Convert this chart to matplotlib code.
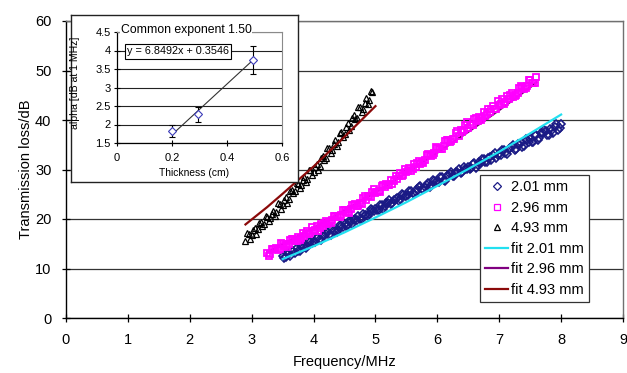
import numpy as np
import matplotlib
matplotlib.use("Agg")
import matplotlib.pyplot as plt

plt.rcParams['font.family'] = ['Liberation Sans', 'DejaVu Sans']

# ---------------- data ----------------
# 2.01 mm sample: reading A every 0.05 MHz from 3.50 to 8.00 MHz,
# reading B in between (3.525 .. 7.975 MHz)
blue_f_start, blue_f_stop = 3.50, 8.00
blue_loss = [
    12.5, 12.3, 13.1, 13.6, 13.2, 13.5, 14.5, 14.4, 14.6, 15.4,
    15.3, 16.1, 15.9, 16.6, 16.9, 16.8, 17.9, 17.5, 17.8, 18.6,
    18.9, 18.7, 19.6, 19.8, 19.7, 20.1, 21.0, 20.8, 21.0, 21.9,
    22.0, 21.9, 22.9, 22.7, 23.3, 23.0, 23.9, 24.2, 24.0, 24.9,
    24.7, 25.6, 25.3, 25.5, 26.4, 26.0, 26.4, 27.2, 26.8, 27.6,
    27.7, 28.4, 27.9, 28.7, 29.1, 28.6, 29.4, 30.1, 29.5, 30.2,
    30.6, 30.3, 31.3, 31.0, 31.3, 32.1, 31.6, 32.5, 32.9, 32.3,
    33.2, 33.9, 33.3, 34.1, 34.6, 34.0, 35.2, 35.3, 34.7, 35.9,
    36.2, 35.6, 36.9, 36.3, 37.3, 37.8, 36.9, 38.0, 38.6, 37.9,
    39.1]
blue_loss_b = [
    12.1, 13.2, 12.5, 13.6, 14.2, 13.6, 14.5, 14.2, 15.5, 15.1,
    15.3, 16.3, 15.7, 16.8, 17.4, 16.8, 17.7, 17.4, 18.8, 18.4,
    18.6, 19.6, 18.9, 20.1, 20.6, 20.0, 20.9, 20.6, 22.0, 21.6,
    21.8, 22.8, 22.1, 23.2, 23.8, 23.2, 24.0, 23.7, 25.0, 24.6,
    24.8, 25.7, 25.0, 26.1, 26.6, 26.0, 26.8, 26.5, 27.8, 27.4,
    27.5, 28.4, 27.7, 28.8, 29.4, 28.7, 29.5, 29.2, 30.5, 30.1,
    30.2, 31.2, 30.4, 31.5, 32.1, 31.5, 32.3, 31.9, 33.3, 32.9,
    32.9, 34.0, 33.1, 34.3, 35.0, 34.1, 35.2, 34.6, 36.2, 35.5,
    35.6, 36.9, 35.9, 37.4, 38.0, 36.9, 38.1, 37.4, 39.1, 38.3]

# 2.96 mm sample: reading A every 0.05 MHz from 3.25 to 7.60 MHz,
# reading B in between (3.275 .. 7.575 MHz)
mag_f_start, mag_f_stop = 3.25, 7.60
mag_loss = [
    13.2, 13.0, 13.9, 14.1, 14.0, 14.9, 14.7, 15.0, 15.9, 15.6,
    16.4, 16.1, 16.5, 17.5, 17.2, 17.6, 18.5, 18.1, 18.6, 19.6,
    19.3, 19.8, 20.7, 20.4, 20.9, 21.8, 21.5, 22.0, 22.9, 22.7,
    23.3, 24.3, 23.9, 24.6, 25.5, 25.2, 25.7, 26.7, 26.5, 26.9,
    27.9, 27.6, 28.1, 29.2, 28.9, 29.4, 30.4, 30.1, 30.6, 31.8,
    31.5, 32.0, 33.1, 32.8, 33.4, 34.4, 34.2, 34.7, 35.9, 35.6,
    36.2, 37.4, 36.8, 37.6, 38.9, 38.4, 38.9, 40.3, 39.7, 40.1,
    41.6, 41.2, 41.7, 42.9, 42.2, 43.0, 44.2, 43.6, 44.2, 45.5,
    44.9, 45.5, 46.8, 46.2, 46.9, 48.1, 47.4, 48.6]
mag_loss_b = [
    12.6, 14.0, 13.9, 13.7, 15.1, 14.6, 14.4, 15.8, 15.9, 15.5,
    15.7, 17.1, 17.0, 16.9, 18.3, 17.7, 17.6, 19.0, 19.2, 18.9,
    19.1, 20.6, 20.6, 20.4, 21.9, 21.4, 21.3, 22.8, 23.0, 22.7,
    23.1, 24.6, 24.6, 24.5, 26.0, 25.5, 25.4, 26.9, 27.1, 26.8,
    27.1, 28.6, 28.7, 28.6, 30.1, 29.6, 29.6, 31.1, 31.4, 31.1,
    31.4, 33.0, 33.0, 33.0, 34.5, 34.1, 34.1, 35.7, 36.0, 35.8,
    36.2, 37.8, 37.9, 37.9, 39.5, 39.0, 39.0, 40.5, 40.7, 40.5,
    40.8, 42.3, 42.3, 42.3, 43.8, 43.3, 43.2, 44.8, 45.0, 44.7,
    45.0, 46.5, 46.6, 46.5, 48.0, 47.5, 47.4]

# 4.93 mm sample: reading A every 0.05 MHz from 2.90 to 4.95 MHz,
# reading B in between (2.925 .. 4.925 MHz)
blk_f_start, blk_f_stop = 2.90, 4.95
blk_loss = [
    15.6, 16.9, 16.8, 18.1, 17.9, 19.3, 19.0, 20.5, 20.2, 21.6,
    21.5, 23.1, 22.8, 24.4, 24.1, 25.9, 25.6, 27.1, 26.8, 28.5,
    28.0, 29.8, 29.4, 31.2, 30.7, 32.8, 32.3, 34.4, 33.9, 35.9,
    35.6, 37.6, 37.2, 39.3, 38.8, 41.0, 40.5, 42.7, 42.3, 44.5,
    44.0, 45.6]
blk_loss_b = [
    17.1, 16.0, 17.7, 16.9, 19.1, 18.6, 20.7, 19.6, 21.1, 20.7,
    23.2, 22.1, 23.9, 23.3, 25.6, 25.2, 27.3, 26.3, 27.8, 27.4,
    29.8, 28.8, 30.5, 29.9, 32.3, 32.0, 34.3, 33.4, 35.1, 34.8,
    37.4, 36.6, 38.5, 38.0, 40.5, 40.2, 42.6, 41.7, 43.5, 43.2,
    45.8]

# fitted curves (common exponent 1.5)
fit201_f = [3.5, 4.0, 4.5, 5.0, 5.5, 6.0, 6.5, 7.0, 7.5, 8.0]
fit201_v = [11.9, 14.5, 17.3, 20.3, 23.4, 26.7, 30.1, 33.6, 37.3, 41.1]
fit296_f = [3.25, 3.5, 4.0, 4.5, 5.0, 5.5, 6.0, 6.5, 7.0, 7.5, 7.6]
fit296_v = [13.3, 14.9, 18.2, 21.7, 25.4, 29.3, 33.4, 37.6, 42.0, 46.6, 47.6]
fit493_f = [2.9, 3.25, 3.5, 4.0, 4.5, 5.0]
fit493_v = [18.9, 22.4, 25.1, 30.6, 36.6, 42.8]

series_labels = ['2.01 mm', '2.96 mm', '4.93 mm',
                 'fit 2.01 mm', 'fit 2.96 mm', 'fit 4.93 mm']

# inset data
thickness = [0.201, 0.296, 0.493]
alpha_1mhz = [1.82, 2.28, 3.74]
alpha_err = [0.17, 0.20, 0.37]
trend_slope, trend_intercept = 6.8492, 0.3546

x_ticks = list(range(0, 10))
y_ticks = list(range(0, 70, 10))
in_x_ticks = [0, 0.2, 0.4, 0.6]
in_x_labels = ['0', '0.2', '0.4', '0.6']
in_y_ticks = [1.5, 2, 2.5, 3, 3.5, 4, 4.5]
in_y_labels = ['1.5', '2', '2.5', '3', '3.5', '4', '4.5']

# ---------------- figure ----------------
W, H = 627, 373
fig = plt.figure(figsize=(W / 100, H / 100), dpi=100)


def fx(px):
    return px / W


def fy(py):
    return 1 - py / H


ax = fig.add_axes([fx(66), fy(318), fx(623) - fx(66), fy(21) - fy(318)])
ax.set_zorder(1)

half = 0.025
blue_f = np.linspace(blue_f_start, blue_f_stop, len(blue_loss))
blue_f_b = np.linspace(blue_f_start + half, blue_f_stop - half, len(blue_loss_b))
mag_f = np.linspace(mag_f_start, mag_f_stop, len(mag_loss))
mag_f_b = np.linspace(mag_f_start + half, mag_f_stop - half, len(mag_loss_b))
blk_f = np.linspace(blk_f_start, blk_f_stop, len(blk_loss))
blk_f_b = np.linspace(blk_f_start + half, blk_f_stop - half, len(blk_loss_b))

blue_style = dict(ls='none', marker='D', ms=4.3, mfc='none', mec='#1a1a85',
                  mew=1.2, zorder=3)
mag_style = dict(ls='none', marker='s', ms=5.0, mfc='none', mec='#ff00ff',
                 mew=1.3, zorder=3)
blk_style = dict(ls='none', marker='^', ms=5.0, mfc='none', mec='black',
                 mew=0.9, zorder=3)

h_fit296, = ax.plot(fit296_f, fit296_v, color='#800080', lw=1.6, zorder=2)
h_blue, = ax.plot(blue_f, blue_loss, **blue_style)
ax.plot(blue_f_b, blue_loss_b, **blue_style)
h_mag, = ax.plot(mag_f, mag_loss, **mag_style)
ax.plot(mag_f_b, mag_loss_b, **mag_style)
h_blk, = ax.plot(blk_f, blk_loss, **blk_style)
ax.plot(blk_f_b, blk_loss_b, **blk_style)
h_fit201, = ax.plot(fit201_f, fit201_v, color='#22e0f0', lw=1.6, zorder=4)
h_fit493, = ax.plot(fit493_f, fit493_v, color='#8b0a0a', lw=1.6, zorder=4)

ax.set_xlim(0, 9)
ax.set_ylim(0, 60)
ax.set_xticks(x_ticks)
ax.set_yticks(y_ticks)
ax.yaxis.grid(True, color='#333333', lw=0.9)
ax.set_axisbelow(True)
ax.tick_params(axis='both', direction='inout', length=6, width=0.9,
               labelsize=10.5, colors='black')
ax.tick_params(axis='y', pad=7.5)
ax.tick_params(axis='x', pad=8)
for s in ['left', 'bottom']:
    ax.spines[s].set_color('black')
    ax.spines[s].set_linewidth(1.0)
for s in ['top', 'right']:
    ax.spines[s].set_color('#707070')
    ax.spines[s].set_linewidth(1.0)

ax.set_xlabel('Frequency/MHz', fontsize=10.5)
ax.set_ylabel('Transmission loss/dB', fontsize=10.5)
ax.xaxis.label.set_va('center')
ax.yaxis.label.set_va('center')
ax.xaxis.set_label_coords(0.5, (318 - 362) / 297)
ax.yaxis.set_label_coords((26 - 66) / 557, 0.5)

leg = ax.legend([h_blue, h_mag, h_blk, h_fit201, h_fit296, h_fit493],
                series_labels, loc='upper left',
                bbox_to_anchor=(fx(480), fy(175)),
                bbox_transform=fig.transFigure, borderaxespad=0,
                fontsize=10.5, frameon=True, fancybox=False, framealpha=1,
                edgecolor='#333333', handlelength=1.6, handletextpad=0.15,
                labelspacing=0.45, borderpad=0.35, numpoints=1)
leg.get_frame().set_linewidth(0.9)
for h in leg.legend_handles[:3]:
    h.set_markersize(4.2)
    h.set_markeredgewidth(0.9)

# ---------------- inset ----------------
ax_box = fig.add_axes([fx(71), fy(182), fx(298) - fx(71), fy(15) - fy(182)])
ax_box.set_zorder(2)
ax_box.set_xticks([])
ax_box.set_yticks([])
ax_box.set_facecolor('white')
for s in ax_box.spines.values():
    s.set_color('#222222')
    s.set_linewidth(1.0)

ax_in = fig.add_axes([fx(117), fy(143), fx(282) - fx(117), fy(32) - fy(143)])
ax_in.set_zorder(3)
ax_in.patch.set_alpha(0)
ax_in.set_xlim(0, 0.6)
ax_in.set_ylim(1.5, 4.5)
ax_in.set_xticks(in_x_ticks)
ax_in.set_xticklabels(in_x_labels)
ax_in.set_yticks(in_y_ticks)
ax_in.set_yticklabels(in_y_labels)
ax_in.yaxis.grid(True, color='#222222', lw=0.8)
ax_in.set_axisbelow(True)
ax_in.tick_params(axis='both', direction='inout', length=5, width=0.8,
                  labelsize=8)
ax_in.tick_params(axis='x', pad=5)
ax_in.tick_params(axis='y', pad=2)
for s in ['left', 'bottom']:
    ax_in.spines[s].set_color('black')
    ax_in.spines[s].set_linewidth(0.9)
for s in ['top', 'right']:
    ax_in.spines[s].set_color('#8a8a8a')
    ax_in.spines[s].set_linewidth(0.8)

tx = np.array([thickness[0], thickness[-1]])
ax_in.plot(tx, trend_slope * tx + trend_intercept, color='#333333', lw=0.8,
           zorder=3)
ax_in.errorbar(thickness, alpha_1mhz, yerr=alpha_err, fmt='D', ms=3.8,
               mfc='white', mec='#3a3ab8', mew=0.8, ecolor='black',
               elinewidth=0.8, capsize=2.5, capthick=0.8, zorder=4)

ax_in.text(fx(186), fy(30), 'Common exponent 1.50', transform=fig.transFigure,
           ha='center', va='center', fontsize=8.8, zorder=10,
           bbox=dict(facecolor='white', edgecolor='none', pad=0.6))
ax_in.text(fx(178), fy(51.5), 'y = 6.8492x + 0.3546',
           transform=fig.transFigure, ha='center', va='center', fontsize=7.8,
           zorder=10,
           bbox=dict(facecolor='white', edgecolor='black', linewidth=0.8,
                     boxstyle='square,pad=0.2'))
ax_in.set_xlabel('Thickness (cm)', fontsize=7.4)
ax_in.xaxis.label.set_va('center')
ax_in.xaxis.set_label_coords((194 - 117) / 165, (143 - 173) / 111)
ax_in.set_ylabel('alpha [dB at 1 MHz]', fontsize=7.6)
ax_in.yaxis.label.set_va('center')
ax_in.yaxis.set_label_coords((75 - 117) / 165, (143 - 83) / 111)

fig.savefig('out.png', dpi=100)
